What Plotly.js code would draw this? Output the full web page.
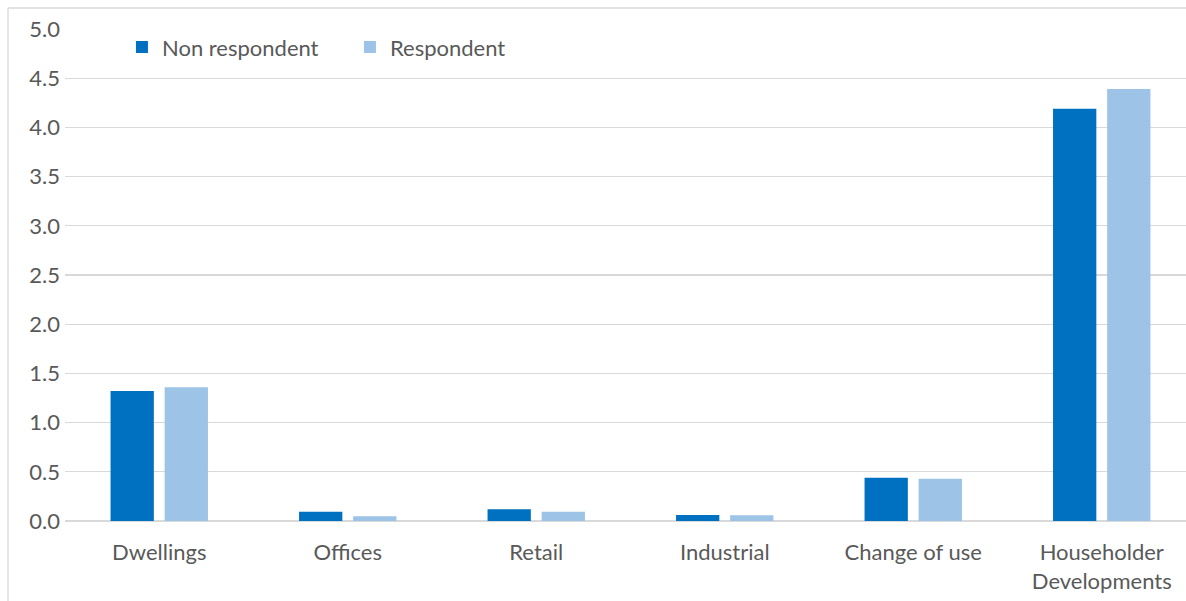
<!DOCTYPE html>
<html><head><meta charset="utf-8">
<script src="https://cdn.plot.ly/plotly-3.0.1.min.js"></script>
<style>html,body{margin:0;padding:0;background:#fff}#chart{width:1186px;height:601px}</style>
</head><body><div id="chart"></div>
<script>
const categories = ["Dwellings", "Offices", "Retail", "Industrial", "Change of use", "Householder<br>Developments"];
const nonRespondent = [1.32, 0.095, 0.12, 0.06, 0.44, 4.19];
const respondent = [1.36, 0.048, 0.095, 0.058, 0.43, 4.39];
const seriesNames = ["Non respondent", "Respondent"];
const yTicks = [0, 0.5, 1, 1.5, 2, 2.5, 3, 3.5, 4, 4.5, 5];

const font = {family: "Lato, 'Open Sans', sans-serif", size: 22, color: "#595959"};
const traces = [
  {type: "bar", name: seriesNames[0], x: categories, y: nonRespondent, marker: {color: "#0070C0"}, hoverinfo: "y"},
  {type: "bar", name: seriesNames[1], x: categories, y: respondent, marker: {color: "#9DC3E6"}, hoverinfo: "y"}
];
const W = 1121, H = 492;
const layout = {
  width: 1186, height: 601,
  margin: {l: 65, r: 0, t: 29, b: 80},
  paper_bgcolor: "#fff", plot_bgcolor: "#fff",
  font: font,
  barmode: "group", bargap: 0.426, bargroupgap: 0.2,
  showlegend: true,
  legend: {orientation: "h", x: 0.0508, y: 0.963, xanchor: "left", yanchor: "middle", font: font,
           bgcolor: "rgba(0,0,0,0)", entrywidth: 183, entrywidthmode: "pixels"},
  xaxis: {type: "category", range: [-0.5, 5.447], showgrid: false, showline: false, ticks: "", tickfont: font,
          fixedrange: true, zeroline: false, ticklabelstandoff: 16},
  yaxis: {range: [0, 5], tickvals: yTicks, tickformat: ".1f", showgrid: true, gridcolor: "#d9d9d9", gridwidth: 1.3,
          zeroline: true, zerolinecolor: "#d9d9d9", zerolinewidth: 1.3, showline: false, ticks: "", tickfont: font,
          fixedrange: true, ticklabelstandoff: 4},
  shapes: [
    {type: "line", xref: "paper", yref: "paper", x0: -57/W, x1: -57/W, y0: 1 + 21/H, y1: -80/H, line: {color: "#d9d9d9", width: 1.3}},
    {type: "line", xref: "paper", yref: "paper", x0: -57/W, x1: 1, y0: 1 + 21/H, y1: 1 + 21/H, line: {color: "#d9d9d9", width: 1.3}}
  ]
};
Plotly.newPlot("chart", traces, layout, {displayModeBar: false, staticPlot: true});
</script></body></html>
